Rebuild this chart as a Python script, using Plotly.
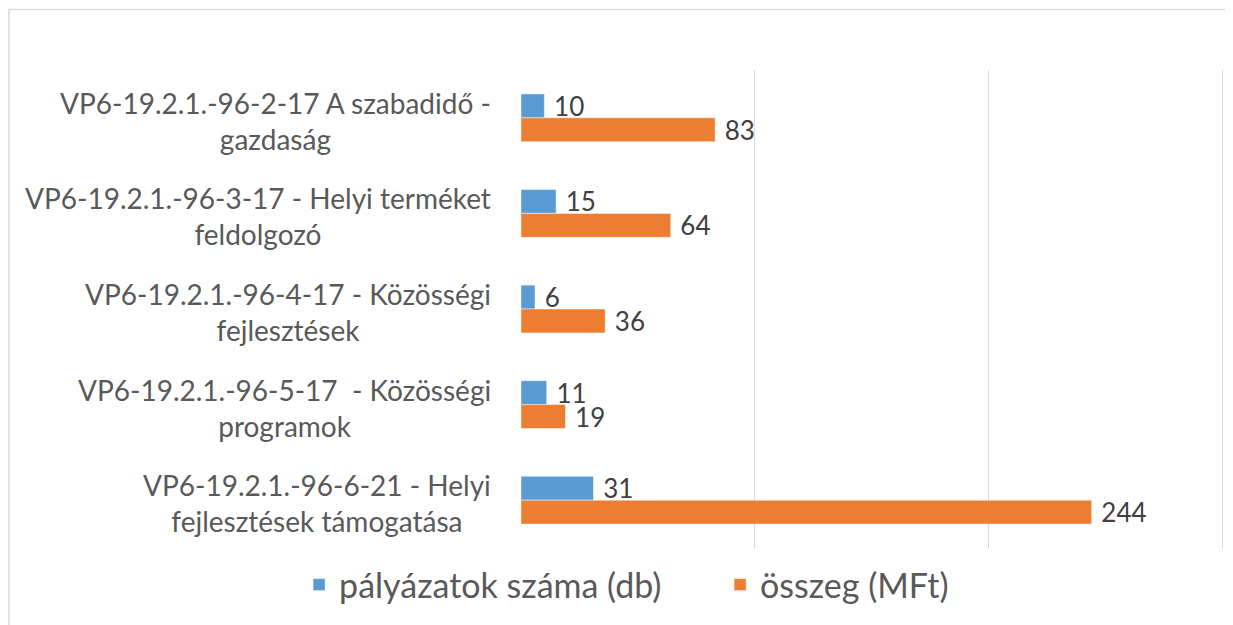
import plotly.graph_objects as go

categories = [
    "VP6-19.2.1.-96-2-17 A szabadidő -<br>gazdaság",
    "VP6-19.2.1.-96-3-17 - Helyi terméket<br>feldolgozó",
    "VP6-19.2.1.-96-4-17 - Közösségi<br>fejlesztések",
    "VP6-19.2.1.-96-5-17  - Közösségi<br>programok",
    "VP6-19.2.1.-96-6-21 - Helyi<br>fejlesztések támogatása",
]
series_names = ["pályázatok száma (db)", "összeg (MFt)"]
palyazatok = [10, 15, 6, 11, 31]
osszeg = [83, 64, 36, 19, 244]
x_ticks = [0, 100, 200, 300]

FONT = "Lato, Open Sans, Liberation Sans, sans-serif"
BLUE = "#5B9BD5"
ORANGE = "#ED7D31"

# page has an 8px body margin; work in page pixel coordinates and convert
OFF = 8
W, H = 1233 - OFF, 625 - OFF
PL, PR, PT, PB = 521, 1225.3, 70, 548          # plot area in page pixels (x 0..301)
L, T = PL - OFF, PT - OFF
R, B = W - (PR - OFF), H - (PB - OFF)
pw, ph = W - L - R, H - T - B
def px_x(p):
    return (p - OFF - L) / pw
def px_y(p):
    return 1 - (p - OFF - T) / ph

fig = go.Figure()
for name, vals, col in [(series_names[0], palyazatok, BLUE), (series_names[1], osszeg, ORANGE)]:
    fig.add_trace(go.Bar(
        y=categories, x=vals, name=name, orientation="h",
        marker=dict(color=col, line=dict(color="rgba(255,255,255,0.6)", width=0.8)),
        text=[str(v) for v in vals], texttemplate=" %{text}", textposition="outside",
        textfont=dict(family=FONT, size=26, color="#404040"),
        constraintext="none", cliponaxis=False,
    ))

annotations = []
for c in categories:
    annotations.append(dict(
        x=0, xref="paper", xshift=-28, y=c, yref="y", yshift=-3,
        text=c, showarrow=False, xanchor="right", yanchor="middle", align="center",
        font=dict(family=FONT, size=28, color="#595959"),
    ))

fig.update_layout(
    width=W, height=H,
    margin=dict(l=L, r=R, t=T, b=B, pad=0),
    paper_bgcolor="white", plot_bgcolor="white",
    barmode="group", bargap=0.5, bargroupgap=0,
    font=dict(family=FONT, color="#595959"),
    xaxis=dict(range=[0, 301], tickvals=x_ticks, showticklabels=False,
               showgrid=True, gridcolor="#D9D9D9", gridwidth=1,
               zeroline=False, showline=False, fixedrange=True),
    yaxis=dict(autorange="reversed", showticklabels=False, showgrid=False,
               zeroline=False, showline=False, ticks="", fixedrange=True),
    legend=dict(orientation="h", x=px_x(299), xanchor="left", y=px_y(585), yanchor="middle",
                font=dict(family=FONT, size=34, color="#595959"),
                itemwidth=30, entrywidth=376, entrywidthmode="pixels",
                traceorder="normal", bgcolor="rgba(0,0,0,0)"),
    annotations=annotations,
    shapes=[dict(type="rect", xref="paper", yref="paper",
                 x0=px_x(8.75), x1=px_x(1250), y0=px_y(650), y1=px_y(9.5),
                 line=dict(color="#D9D9D9", width=1.5), fillcolor="rgba(0,0,0,0)", layer="below")],
)
fig.write_html("out.html")
